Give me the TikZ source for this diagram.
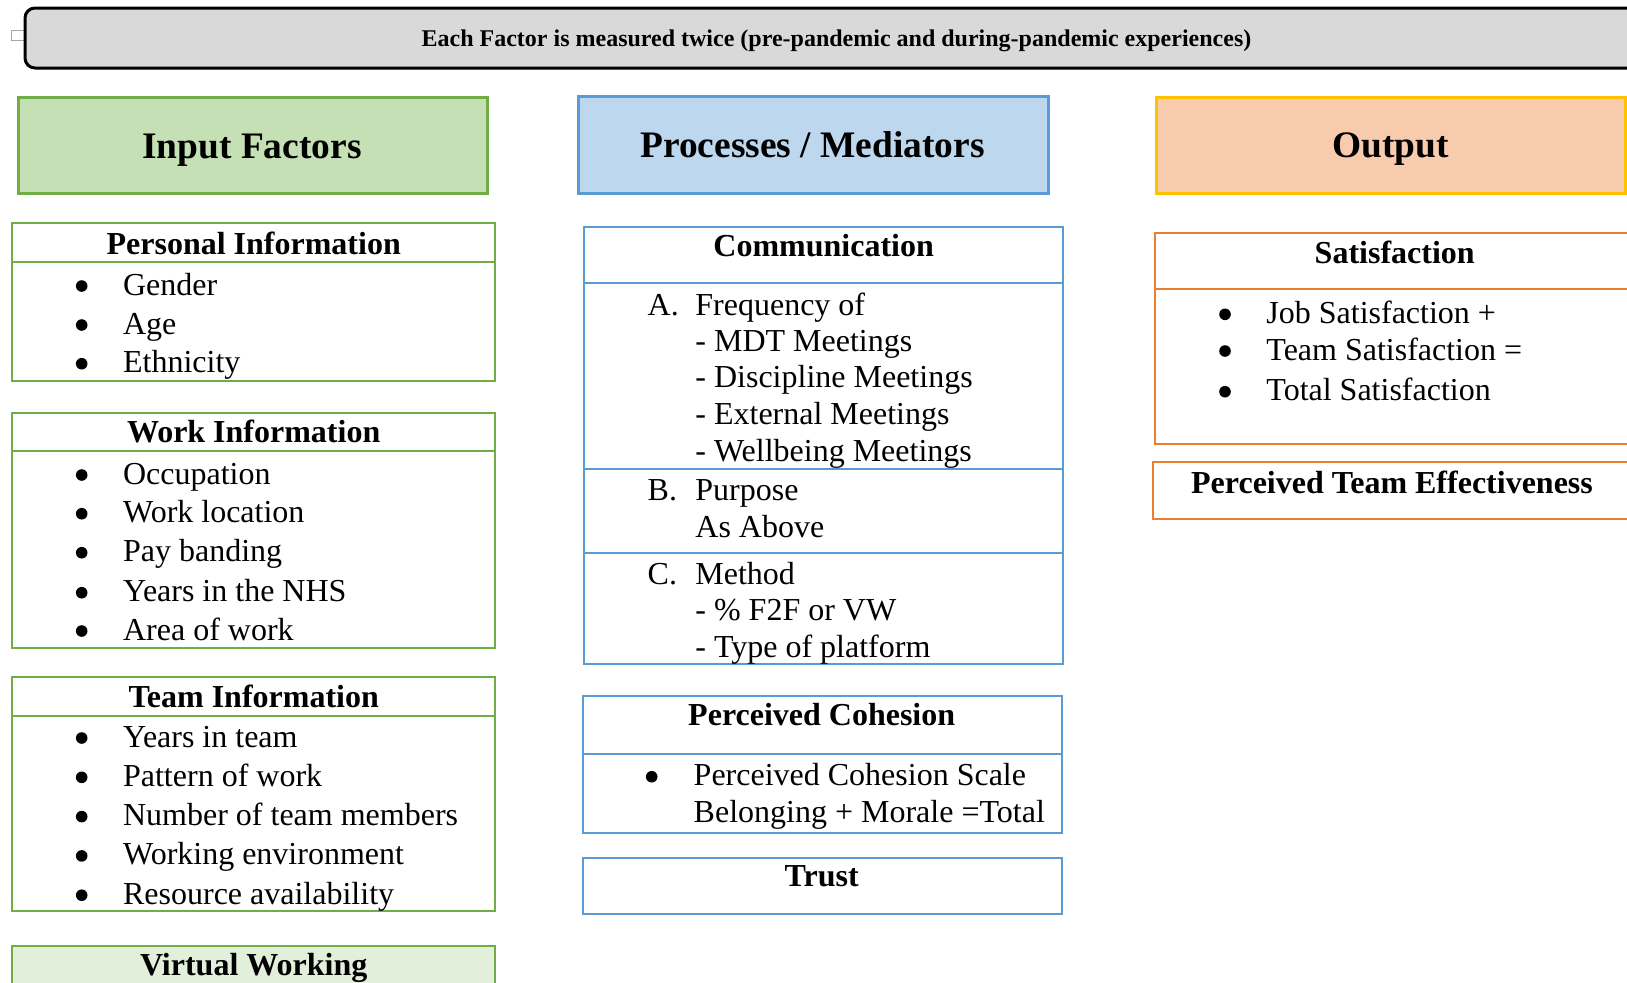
\documentclass[tikz,border=0pt]{standalone}
\usepackage{fontspec}
\setmainfont{Liberation Serif}
\definecolor{cgreen}{HTML}{70AD47}
\definecolor{cgreenfill}{HTML}{C5E0B4}
\definecolor{cgreenlight}{HTML}{E2EFDA}
\definecolor{cblue}{HTML}{5B9BD5}
\definecolor{cbluefill}{HTML}{BDD7EE}
\definecolor{corange}{HTML}{ED7D31}
\definecolor{corangefill}{HTML}{F8CBAD}
\definecolor{cgold}{HTML}{FFC000}
\definecolor{cgrey}{HTML}{D9D9D9}
\tikzset{
  txt/.style={inner sep=0pt, anchor=base west, font=\fontsize{16}{19}\selectfont},
  ttl/.style={inner sep=0pt, anchor=base, font=\fontsize{16}{19}\selectfont\bfseries},
  hdr/.style={inner sep=0pt, anchor=base, font=\fontsize{18.7}{22}\selectfont\bfseries},
  bul/.style={circle, fill=black, inner sep=0pt, minimum size=5.8pt},
  gbox/.style={draw=cgreen, line width=1pt},
  bbox/.style={draw=cblue, line width=1pt},
  obox/.style={draw=corange, line width=1pt},
}
\begin{document}
\begin{tikzpicture}[x=0.5pt,y=-0.5pt]
\useasboundingbox (0,0) rectangle (1627,982);
\clip (0,0) rectangle (1627,982);
\fill[white] (0,0) rectangle (1627,982);
% banner
\draw[fill=white, draw=black!35, line width=0.4pt] (11.7,30) rectangle (25,40.7);
\draw[fill=cgrey, draw=black, line width=1.5pt, rounded corners=5pt] (25,8) rectangle (1720,68);
\node[inner sep=0pt, anchor=base, font=\fontsize{12}{14}\selectfont\bfseries] (banner) at (836.5,46.7) {Each Factor is measured twice (pre-pandemic and during-pandemic experiences)};
% headers
\draw[fill=cgreenfill, draw=cgreen, line width=1.5pt] (18,97.7) rectangle (487.5,193.5);
\node[hdr] (hin) at (252,158) {Input Factors};
\draw[fill=cbluefill, draw=cblue, line width=1.5pt] (578,96.5) rectangle (1048,193);
\node[hdr] (hproc) at (812.5,157) {Processes / Mediators};
\draw[fill=corangefill, draw=cgold, line width=1.5pt] (1156,97.7) rectangle (1625,193.5);
\node[hdr] (hout) at (1390.8,157.5) {Output};
% Personal Information
\draw[gbox] (12,223.3) rectangle (495.3,380.7);
\draw[gbox] (12,262) -- (495.3,262);
\node[ttl] (pit) at (253.7,254) {Personal Information};
\foreach \t/\y [count=\i] in {Gender/295,Age/334,Ethnicity/372.7}{
  \node[bul] (pib\i) at (81.7,\y-9) {};
  \node[txt] (pi\i) at (122.7,\y) {\t};
}
% Work Information
\draw[gbox] (12,412.7) rectangle (495.3,647.7);
\draw[gbox] (12,451) -- (495.3,451);
\node[ttl] (wit) at (253.7,442.3) {Work Information};
\foreach \t/\y [count=\i] in {Occupation/484,Work location/522.7,Pay banding/561.7,Years in the NHS/601.7,Area of work/640}{
  \node[bul] (wib\i) at (81.7,\y-9) {};
  \node[txt] (wi\i) at (122.7,\y) {\t};
}
% Team Information
\draw[gbox] (12,677.3) rectangle (495.3,911);
\draw[gbox] (12,715.7) -- (495.3,715.7);
\node[ttl] (tit) at (253.7,707.3) {Team Information};
\foreach \t/\y [count=\i] in {Years in team/747,Pattern of work/786.3,Number of team members/825.6,Working environment/864.9,Resource availability/904.2}{
  \node[bul] (tib\i) at (81.7,\y-9) {};
  \node[txt] (ti\i) at (122.7,\y) {\t};
}
% Virtual Working
\draw[gbox, fill=cgreenlight] (12,945.7) rectangle (495.3,1010);
\node[ttl] (vwt) at (253.7,975) {Virtual Working};
% Communication
\draw[bbox] (584,227.3) rectangle (1063.3,664.3);
\draw[bbox] (584,283.3) -- (1063.3,283.3);
\draw[bbox] (584,468.8) -- (1063.3,468.8);
\draw[bbox] (584,553.3) -- (1063.3,553.3);
\node[ttl] (cmt) at (823.7,256.7) {Communication};
\node[txt] (ca) at (647.3,315) {A.};
\node[txt] (ca0) at (695,315) {Frequency of};
\node[txt] (ca1) at (695,351) {- MDT Meetings};
\node[txt] (ca2) at (695,387.5) {- Discipline Meetings};
\node[txt] (ca3) at (695,424.3) {- External Meetings};
\node[txt] (ca4) at (695,461.5) {- Wellbeing Meetings};
\node[txt] (cb) at (647.3,500) {B.};
\node[txt] (cb0) at (695,500) {Purpose};
\node[txt] (cb1) at (695,537) {As Above};
\node[txt] (cc) at (647.3,584) {C.};
\node[txt] (cc0) at (695,584) {Method};
\node[txt] (cc1) at (695,620.7) {- \% F2F or VW};
\node[txt] (cc2) at (695,657.3) {- Type of platform};
% Perceived Cohesion
\draw[bbox] (582.7,695.7) rectangle (1062.3,833);
\draw[bbox] (582.7,753.7) -- (1062.3,753.7);
\node[ttl] (pct) at (821.7,725) {Perceived Cohesion};
\node[bul] (pcb) at (651.7,776.7) {};
\node[txt] (pc1) at (693.3,785) {Perceived Cohesion Scale};
\node[txt] (pc2) at (693.3,822.7) {Belonging + Morale =Total};
% Trust
\draw[bbox] (582.7,858.3) rectangle (1062.3,914.3);
\node[ttl] (trt) at (821.7,886.7) {Trust};
% Satisfaction
\draw[obox] (1154.7,232.7) rectangle (1720,444.3);
\draw[obox] (1154.7,289) -- (1720,289);
\node[ttl] (sat) at (1394.7,263.3) {Satisfaction};
\foreach \t/\y [count=\i] in {Job Satisfaction +/323.3,Team Satisfaction =/360,Total Satisfaction/400.7}{
  \node[bul] (sab\i) at (1225,\y-9) {};
  \node[txt] (sa\i) at (1266,\y) {\t};
}
% Perceived Team Effectiveness
\draw[obox] (1152.7,461.7) rectangle (1720,519.3);
\node[ttl] (pte) at (1392,493.3) {Perceived Team Effectiveness};
\end{tikzpicture}
\end{document}
